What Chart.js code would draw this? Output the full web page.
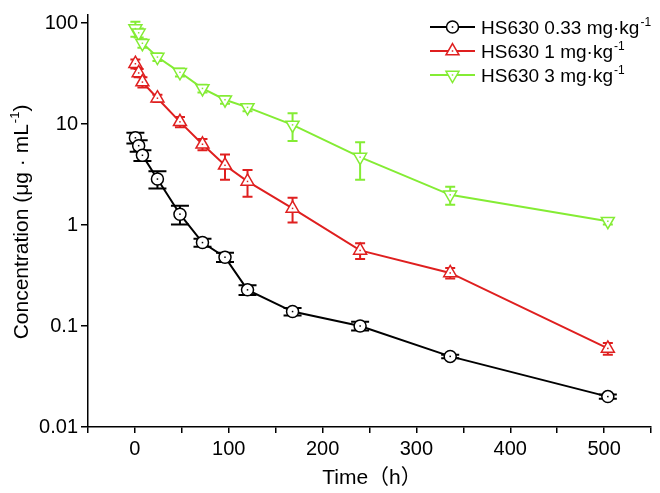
<!DOCTYPE html>
<html>
<head>
<meta charset="utf-8">
<script src="https://cdn.jsdelivr.net/npm/chart.js@4/dist/chart.umd.min.js"></script>
<style>
  html, body { margin: 0; padding: 0; background: #fff; }
  #wrap { width: 660px; height: 493px; }
</style>
</head>
<body>
<div id="wrap"><canvas id="pkChart" width="660" height="493"></canvas></div>
<script>
const FONT = '"Liberation Sans", Arial, "Noto Sans CJK SC", sans-serif';

// sampling times (h)
const times = [0.5, 4, 8, 24, 48, 72, 96, 120, 168, 240, 336, 504];

// mean concentration and SD, ug/mL
const low = [7.3, 6.1, 4.9, 2.85, 1.28, 0.67, 0.48, 0.228, 0.139, 0.1, 0.05, 0.02];
const lowSd = [0.9, 0.8, 0.6, 0.55, 0.27, 0.06, 0.05, 0.025, 0.012, 0.01, 0.002, 0.001];
const mid = [39.5, 32, 26, 18, 10.5, 6.3, 3.9, 2.7, 1.46, 0.56, 0.335, 0.06];
const midSd = [4, 3, 3, 1.5, 1.2, 0.8, 1.1, 0.8, 0.4, 0.1, 0.04, 0.008];
const high = [88, 80, 63, 46, 32.5, 22.5, 17.4, 14.6, 9.8, 4.7, 1.99, 1.09];
const highSd = [15, 8, 6, 4, 3, 2, 1.5, 1.2, 3, 1.9, 0.4, 0.08];

const seriesNames = ['HS630 0.33 mg\u00b7kg', 'HS630 1 mg\u00b7kg', 'HS630 3 mg\u00b7kg'];
const yTickValues = [0.01, 0.1, 1, 10, 100];
const yTickLabels = ['0.01', '0.1', '1', '10', '100'];

const colors = ['#000000', '#df1f1f', '#84ec34'];
const styles = [
  { pointStyle: 'circle', rotation: 0, radius: 6, cap: 9 },
  { pointStyle: 'triangle', rotation: 0, radius: 7.5, cap: 5 },
  { pointStyle: 'triangle', rotation: 180, radius: 7.5, cap: 5 }
];

function pts(vals) {
  return vals.map((v, i) => ({ x: times[i], y: v }));
}

function makeSet(i, vals, sds) {
  return {
    label: seriesNames[i],
    data: pts(vals),
    sd: sds,
    borderColor: colors[i],
    borderWidth: 2,
    pointStyle: styles[i].pointStyle,
    pointRotation: styles[i].rotation,
    pointRadius: styles[i].radius,
    pointHoverRadius: styles[i].radius,
    pointBorderWidth: 1.5,
    pointBorderColor: colors[i],
    pointBackgroundColor: '#fff',
    capHalf: styles[i].cap,
    tension: 0
  };
}

function drawSup(ctx, base, sup, x, y, size) {
  ctx.textAlign = 'left';
  ctx.textBaseline = 'alphabetic';
  ctx.font = size + 'px ' + FONT;
  const wb = ctx.measureText(base).width;
  ctx.fillText(base, x, y);
  ctx.font = Math.round(size * 0.62) + 'px ' + FONT;
  const ws = ctx.measureText(sup).width;
  ctx.fillText(sup, x + wb + 1, y - size * 0.42);
  return x + wb + ws + 1;
}

const errorBars = {
  id: 'errorBars',
  beforeDatasetsDraw(chart) {
    const ctx = chart.ctx;
    const ys = chart.scales.y;
    chart.data.datasets.forEach((ds, di) => {
      const meta = chart.getDatasetMeta(di);
      ctx.save();
      ctx.strokeStyle = ds.borderColor;
      ctx.lineWidth = 2;
      meta.data.forEach((p, i) => {
        const v = ds.data[i].y, s = ds.sd[i];
        const top = ys.getPixelForValue(v + s);
        const bot = ys.getPixelForValue(Math.max(v - s, 0.0001));
        ctx.beginPath();
        ctx.moveTo(p.x, top); ctx.lineTo(p.x, bot);
        ctx.moveTo(p.x - ds.capHalf, top); ctx.lineTo(p.x + ds.capHalf, top);
        ctx.moveTo(p.x - ds.capHalf, bot); ctx.lineTo(p.x + ds.capHalf, bot);
        ctx.stroke();
      });
      ctx.restore();
    });
  },
  afterDatasetsDraw(chart) {
    // small dot in the middle of every marker
    const ctx = chart.ctx;
    chart.data.datasets.forEach((ds, di) => {
      ctx.fillStyle = ds.borderColor;
      chart.getDatasetMeta(di).data.forEach(p => {
        ctx.fillRect(p.x - 0.75, p.y - 0.75, 1.5, 1.5);
      });
    });
  }
};

const labelsAndLegend = {
  id: 'labelsAndLegend',
  afterDraw(chart) {
    const ctx = chart.ctx;
    ctx.save();
    ctx.fillStyle = '#000';

    // x title
    ctx.font = '21px ' + FONT;
    ctx.textAlign = 'center';
    ctx.textBaseline = 'alphabetic';
    ctx.fillText('Time\uff08h\uff09', 372, 484);

    // y title, with superscript
    ctx.save();
    ctx.translate(28, 222);
    ctx.rotate(-Math.PI / 2);
    const size = 21;
    const base = 'Concentration (\u03bcg \u00b7 mL';
    ctx.font = size + 'px ' + FONT;
    const wb = ctx.measureText(base).width;
    const wc = ctx.measureText(')').width;
    ctx.font = Math.round(size * 0.62) + 'px ' + FONT;
    const ws = ctx.measureText('-1').width;
    const end = drawSup(ctx, base, '-1', -(wb + ws + wc + 1) / 2, 0, size);
    ctx.font = size + 'px ' + FONT;
    ctx.fillText(')', end, 0);
    ctx.restore();

    // legend
    const rows = [27, 51, 75];
    chart.data.datasets.forEach((ds, i) => {
      const y = rows[i];
      ctx.strokeStyle = ds.borderColor;
      ctx.lineWidth = 2;
      ctx.beginPath();
      ctx.moveTo(430, y); ctx.lineTo(475, y);
      ctx.stroke();
      ctx.fillStyle = '#fff';
      ctx.lineWidth = 1.5;
      Chart.helpers.drawPoint(ctx, {
        pointStyle: ds.pointStyle, rotation: ds.pointRotation,
        radius: ds.pointRadius, borderWidth: 1.5
      }, 452.5, y);
      ctx.fillStyle = ds.borderColor;
      ctx.fillRect(451.75, y - 0.75, 1.5, 1.5);
      ctx.fillStyle = '#000';
      drawSup(ctx, ds.label, '-1', 481, y + 7, 19);
    });
    ctx.restore();
  }
};

const ctx = document.getElementById('pkChart').getContext('2d');
new Chart(ctx, {
  type: 'line',
  data: {
    datasets: [
      makeSet(0, low, lowSd),
      makeSet(1, mid, midSd),
      makeSet(2, high, highSd)
    ]
  },
  options: {
    responsive: false,
    animation: false,
    layout: { padding: { left: 0, right: 1, top: 3, bottom: 0 } },
    plugins: {
      legend: { display: false },
      tooltip: { enabled: false }
    },
    scales: {
      x: {
        type: 'linear',
        min: -50,
        max: 550,
        afterFit(scale) { scale.height = 66; },
        border: { display: true, color: '#000', width: 1.5 },
        grid: { drawOnChartArea: false, tickLength: 6, color: '#000', lineWidth: 1.5 },
        ticks: {
          stepSize: 50,
          autoSkip: false,
          maxRotation: 0,
          padding: 4,
          color: '#000',
          font: { family: FONT, size: 20 },
          callback: v => (v >= 0 && v % 100 === 0 ? String(v) : '')
        }
      },
      y: {
        type: 'logarithmic',
        min: 0.01,
        max: 120,
        afterFit(scale) { scale.width = 88; },
        afterBuildTicks(scale) {
          scale.ticks = yTickValues.map(v => ({ value: v }));
        },
        border: { display: true, color: '#000', width: 1.5 },
        grid: { drawOnChartArea: false, tickLength: 7, color: '#000', lineWidth: 1.5 },
        ticks: {
          autoSkip: false,
          padding: 3,
          color: '#000',
          font: { family: FONT, size: 20 },
          callback: v => {
            const k = yTickValues.indexOf(v);
            return k >= 0 ? yTickLabels[k] : '';
          }
        }
      }
    }
  },
  plugins: [errorBars, labelsAndLegend]
});
</script>
</body>
</html>
